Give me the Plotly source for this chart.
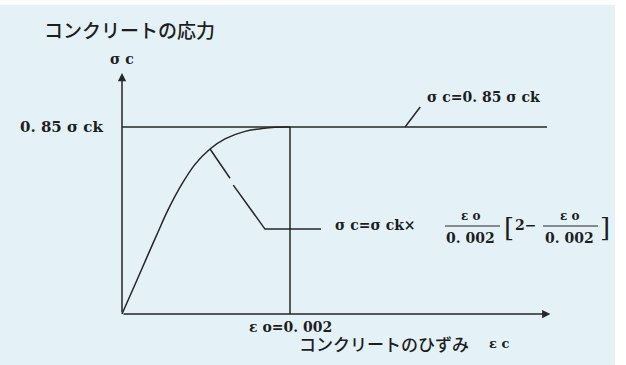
import plotly.graph_objects as go

# Stress-strain curve of concrete (strain, stress as multiple of sigma_ck)
strain_curve = [0.0, 0.000155, 0.00031, 0.000429, 0.000548, 0.000714, 0.000869,
                0.001048, 0.001226, 0.001464, 0.001667, 0.001821, 0.002]
stress_curve = [0.0, 0.134, 0.27, 0.373, 0.473, 0.591, 0.68,
                0.75, 0.796, 0.83, 0.843, 0.849, 0.85]

# Plateau sigma_c = 0.85 sigma_ck and the strain eps_0 = 0.002
plateau_strain = [0.0, 0.00506]
plateau_stress = [0.85, 0.85]
eps0_strain = [0.002, 0.002]
eps0_stress = [0.0, 0.85]

# Leader lines to the two formula labels
leader_curve_strain = [0.001048, 0.001286, None, 0.001325, 0.001702, 0.002369]
leader_curve_stress = [0.75, 0.617, None, 0.586, 0.386, 0.386]
leader_plateau_strain = [0.00337, 0.00355]
leader_plateau_stress = [0.85, 0.941]

# Axis extents (arrow tips)
x_axis_end = 0.0051
y_axis_end = 1.095

LINE = "#262626"
TXT = "#1e1e1e"
SERIF = "DejaVu Serif"
JP = "Noto Sans CJK JP"

fig = go.Figure()

def add_line(xs, ys, spline=False):
    fig.add_trace(go.Scatter(
        x=xs, y=ys, mode="lines", showlegend=False, hoverinfo="skip",
        line=dict(color=LINE, width=1.5, shape="spline" if spline else "linear",
                  smoothing=1.0),
        connectgaps=False, cliponaxis=False))

add_line(strain_curve, stress_curve, spline=True)
add_line(plateau_strain, plateau_stress)
add_line(eps0_strain, eps0_stress)
add_line(leader_curve_strain, leader_curve_stress)
add_line(leader_plateau_strain, leader_plateau_stress)

annotations = []

# Axes with arrowheads
for tip_x, tip_y in [(x_axis_end, 0.0), (0.0, y_axis_end)]:
    annotations.append(dict(
        x=tip_x, y=tip_y, ax=0.0, ay=0.0, xref="x", yref="y", axref="x", ayref="y",
        showarrow=True, arrowhead=2, arrowsize=1.1, arrowwidth=1.5,
        arrowcolor=LINE, text=""))

def label(x, y, text, size=16, font=SERIF, xanchor="left", yanchor="middle",
          weight="bold"):
    annotations.append(dict(
        x=x, y=y, xref="x", yref="y", text=text, showarrow=False,
        xanchor=xanchor, yanchor=yanchor,
        font=dict(family=font, size=size, color=TXT, weight=weight)))

label(-0.000952, 1.291, "コンクリートの応力", size=19, font=JP, weight=500)
label(0.0, 1.159, "σ c", size=14, xanchor="center")
label(-0.000202, 0.85, "0. 85 σ ck", size=15, xanchor="right")
label(0.003607, 0.986, "σ c=0. 85 σ ck", size=14)
label(0.002, -0.059, "ε o=0. 002", size=14, xanchor="center")
label(0.002083, -0.136, "コンクリートのひずみ", size=17, font=JP, weight=500)
label(0.00434, -0.136, "ε c", size=13)

# Formula of the parabolic branch
label(0.002512, 0.4045, "σ c=σ ck×", size=14)
label(0.004143, 0.4455, "ε o", size=12, xanchor="center")
label(0.004143, 0.3455, "0. 002", size=14, xanchor="center")
label(0.004607, 0.391, "[", size=26, xanchor="center", weight="normal")
label(0.004655, 0.4045, "2−", size=14)
label(0.005333, 0.4455, "ε o", size=12, xanchor="center")
label(0.005333, 0.3455, "0. 002", size=14, xanchor="center")
label(0.00575, 0.391, "]", size=26, xanchor="center", weight="normal")

fig.update_layout(annotations=annotations)

# Fraction bars
for x0, x1 in [(0.003845, 0.0045), (0.005012, 0.005667)]:
    fig.add_shape(type="line", x0=x0, x1=x1, y0=0.4, y1=0.4, xref="x", yref="y",
                  line=dict(color=LINE, width=1))

fig.update_layout(
    width=626, height=365,
    margin=dict(l=0, r=11, t=5, b=0, pad=0),
    paper_bgcolor="white",
    plot_bgcolor="#e4f2f8",
    xaxis=dict(range=[-0.0014524, 0.005869], visible=False, fixedrange=True),
    yaxis=dict(range=[-0.2318, 1.4045], visible=False, fixedrange=True),
    showlegend=False,
)

fig.write_html("out.html")
